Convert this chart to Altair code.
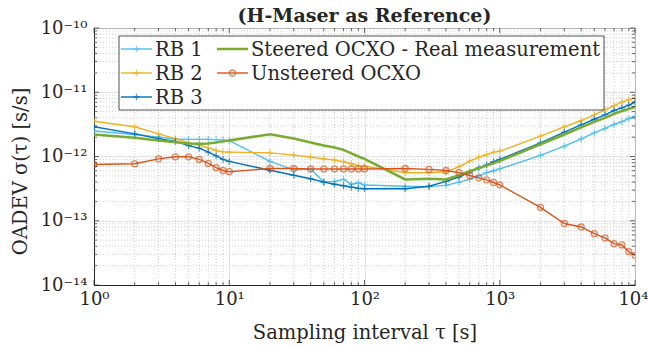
import altair as alt
import pandas as pd

# ---------------- data ----------------
taus = [1, 2, 3, 4, 5, 6, 7, 8, 9, 10,
        20, 30, 40, 50, 60, 70, 80, 90, 100,
        200, 300, 400, 500, 600, 700, 800, 900, 1000,
        2000, 3000, 4000, 5000, 6000, 7000, 8000, 9000, 10000]

rb1 = [2.5e-12, 2.2e-12, 2.0e-12, 1.87e-12, 1.85e-12, 1.85e-12, 1.85e-12, 1.83e-12, 1.8e-12, 1.77e-12,
       0.84e-12, 0.62e-12, 0.64e-12, 0.40e-12, 0.41e-12, 0.44e-12, 0.37e-12, 0.39e-12, 0.36e-12,
       3.45e-13, 3.4e-13, 3.55e-13, 4.0e-13, 4.4e-13, 5.0e-13, 5.6e-13, 6.0e-13, 6.4e-13,
       1.04e-12, 1.45e-12, 1.88e-12, 2.33e-12, 2.73e-12, 3.15e-12, 3.5e-12, 3.9e-12, 4.2e-12]

rb2 = [3.54e-12, 2.9e-12, 2.25e-12, 1.9e-12, 1.63e-12, 1.5e-12, 1.36e-12, 1.24e-12, 1.18e-12, 1.17e-12,
       1.14e-12, 1.05e-12, 0.98e-12, 0.92e-12, 0.88e-12, 0.83e-12, 0.77e-12, 0.72e-12, 0.71e-12,
       5.6e-13, 5.6e-13, 5.8e-13, 6.9e-13, 8.5e-13, 9.8e-13, 1.07e-12, 1.17e-12, 1.21e-12,
       2.07e-12, 2.9e-12, 3.63e-12, 4.45e-12, 5.3e-12, 6.2e-12, 7.0e-12, 7.6e-12, 8.2e-12]

rb3 = [2.9e-12, 2.25e-12, 1.9e-12, 1.72e-12, 1.48e-12, 1.35e-12, 1.17e-12, 1.02e-12, 0.9e-12, 0.84e-12,
       0.61e-12, 0.51e-12, 0.45e-12, 0.40e-12, 0.37e-12, 0.35e-12, 0.333e-12, 0.32e-12, 0.315e-12,
       3.15e-13, 3.45e-13, 4.1e-13, 4.8e-13, 5.7e-13, 6.65e-13, 7.4e-13, 8.3e-13, 9.0e-13,
       1.63e-12, 2.4e-12, 3.1e-12, 3.8e-12, 4.45e-12, 5.2e-12, 5.7e-12, 6.3e-12, 7.0e-12]

steered = [2.2e-12, 1.95e-12, 1.78e-12, 1.67e-12, 1.6e-12, 1.58e-12, 1.6e-12, 1.65e-12, 1.72e-12, 1.78e-12,
           2.22e-12, 1.9e-12, 1.65e-12, 1.48e-12, 1.38e-12, 1.27e-12, 1.12e-12, 1.0e-12, 0.92e-12,
           0.44e-12, 0.45e-12, 0.44e-12, 0.51e-12, 0.59e-12, 0.66e-12, 0.72e-12, 0.79e-12, 0.85e-12,
           1.55e-12, 2.2e-12, 2.85e-12, 3.45e-12, 4.0e-12, 4.6e-12, 5.1e-12, 5.5e-12, 5.9e-12]

unsteered = [7.5e-13, 7.7e-13, 9.2e-13, 9.9e-13, 9.9e-13, 9.0e-13, 7.8e-13, 6.7e-13, 6.05e-13, 5.8e-13,
             6.5e-13, 6.5e-13, 6.4e-13, 6.4e-13, 6.4e-13, 6.4e-13, 6.4e-13, 6.4e-13, 6.4e-13,
             6.5e-13, 6.3e-13, 6.06e-13, 5.6e-13, 5.06e-13, 4.65e-13, 4.33e-13, 3.94e-13, 3.62e-13,
             1.61e-13, 9.06e-14, 8.0e-14, 6.3e-14, 5.4e-14, 4.4e-14, 4.2e-14, 3.3e-14, 2.9e-14]

series_names = ["RB 1", "RB 2", "RB 3", "Steered OCXO - Real measurement", "Unsteered OCXO"]
series_colors = ["#4DBEEE", "#EDB120", "#0072BD", "#77AC30", "#D95319"]
series_markers = ["plus", "plus", "plus", "none", "circle"]

title_text = "(H-Maser as Reference)"
x_title = "Sampling interval τ [s]"
y_title = "OADEV σ(τ) [s/s]"

x_major = [1, 10, 100, 1000, 10000]
y_major = [1e-14, 1e-13, 1e-12, 1e-11, 1e-10]
x_minor = [m * 10 ** e for e in range(0, 4) for m in range(2, 10)]
y_minor = [m * 10.0 ** e for e in range(-14, -10) for m in range(2, 10)]

# ---------------- build ----------------
rows = []
for name, vals in zip(series_names, [rb1, rb2, rb3, steered, unsteered]):
    for t, v in zip(taus, vals):
        rows.append({"series": name, "tau": t, "oadev": v})
df = pd.DataFrame(rows)

W, H = 541, 257
FONT = "DejaVu Serif"
INK = "#262626"
PLUS = "M-1,0L1,0M0,-1L0,1"

xscale = alt.Scale(type="log", domain=[1, 10000], nice=False)
yscale = alt.Scale(type="log", domain=[1e-14, 1e-10], nice=False)
cscale = alt.Scale(domain=series_names, range=series_colors)

E = "round(log(datum.value)/LN10)"
x_lab = (f"{E} == 0 ? '10⁰' : {E} == 1 ? '10¹' : {E} == 2 ? '10²' : "
         f"{E} == 3 ? '10³' : '10⁴'")
y_lab = (f"{E} == -10 ? '10⁻¹⁰' : {E} == -11 ? '10⁻¹¹' : {E} == -12 ? '10⁻¹²' : "
         f"{E} == -13 ? '10⁻¹³' : '10⁻¹⁴'")

last_x = "datum.value >= 9999"
x_axis = alt.Axis(values=x_major, labelExpr=x_lab, title=x_title, titlePadding=15,
                  labelPadding=5,
                  labelAlign={"condition": {"test": last_x, "value": "right"}, "value": "center"},
                  labelOffset={"condition": {"test": last_x, "value": 13}, "value": 0})
y_axis = alt.Axis(values=y_major, labelExpr=y_lab, title=y_title, titlePadding=10,
                  labelPadding=7, titleY=143)

X = lambda f, **kw: alt.X(f, scale=xscale, **kw)
Y = lambda f, **kw: alt.Y(f, scale=yscale, **kw)

layers = []

# axis owner + minor dotted grid (from the minor tick value lists, via the scales)
gx = alt.Chart(pd.DataFrame({"v": x_minor})).mark_rule(
    color="#c4c4c4", strokeWidth=0.8, strokeDash=[1, 2]).encode(
    x=X("v:Q", axis=x_axis))
gy = alt.Chart(pd.DataFrame({"v": y_minor})).mark_rule(
    color="#c4c4c4", strokeWidth=0.8, strokeDash=[1, 2]).encode(
    y=Y("v:Q", axis=y_axis))
layers += [gx, gy]

base = alt.Chart(df)
for name, mk in zip(series_names, series_markers):
    sub = base.transform_filter(alt.datum.series == name)
    sw = 2.5 if mk == "none" else 1.4
    line = sub.mark_line(strokeWidth=sw, clip=True).encode(
        x=X("tau:Q"), y=Y("oadev:Q"),
        color=alt.Color("series:N", scale=cscale, legend=None),
        order="tau:Q",
    )
    layers.append(line)
    if mk != "none":
        shape = PLUS if mk == "plus" else "circle"
        size = 45 if mk == "plus" else 36
        pts = sub.mark_point(shape=shape, size=size, filled=False,
                             strokeWidth=1.3, clip=True).encode(
            x=X("tau:Q"), y=Y("oadev:Q"),
            color=alt.Color("series:N", scale=cscale, legend=None),
        )
        layers.append(pts)

# inward ticks on all four sides (MATLAB box style)
for vals_x, vals_y, ln in [(x_major, y_major, 5), (x_minor, y_minor, 3)]:
    tx = alt.Chart(pd.DataFrame({"v": vals_x}))
    ty = alt.Chart(pd.DataFrame({"v": vals_y}))
    for y0, y1 in [(H, H - ln), (0, ln)]:
        layers.append(tx.mark_rule(color=INK, strokeWidth=0.7).encode(
            x=X("v:Q"), y=alt.value(y0), y2=alt.value(y1)))
    for x0, x1 in [(0, ln), (W, W - ln)]:
        layers.append(ty.mark_rule(color=INK, strokeWidth=0.7).encode(
            y=Y("v:Q"), x=alt.value(x0), x2=alt.value(x1)))

# ---------------- legend (drawn manually, MATLAB column-major layout) ----------------
one = alt.Chart(pd.DataFrame({"k": [0]}))
layers.append(one.mark_rect(fill="white", stroke=INK, strokeWidth=0.8).encode(
    x=alt.value(25), x2=alt.value(510), y=alt.value(8), y2=alt.value(82)))

leg_pos = [(27, 21), (27, 45), (27, 69), (123, 21), (123, 45)]
for name, color, mk, (lx, ly) in zip(series_names, series_colors, series_markers, leg_pos):
    sw = 2.5 if mk == "none" else 1.4
    layers.append(one.mark_rule(color=color, strokeWidth=sw).encode(
        x=alt.value(lx), x2=alt.value(lx + 31), y=alt.value(ly)))
    if mk != "none":
        shape = PLUS if mk == "plus" else "circle"
        size = 45 if mk == "plus" else 36
        layers.append(one.mark_point(shape=shape, size=size, filled=False,
                                     strokeWidth=1.3, color=color).encode(
            x=alt.value(lx + 15.5), y=alt.value(ly)))
    layers.append(one.mark_text(text=name, align="left", baseline="middle",
                                font=FONT, fontSize=19.5, color=INK).encode(
        x=alt.value(lx + 34), y=alt.value(ly + 1)))

chart = alt.layer(*layers).properties(
    width=W, height=H,
    title=alt.TitleParams(title_text, font=FONT, fontSize=19, fontWeight="bold",
                          color=INK, anchor="middle", frame="group", offset=4, dy=11),
    autosize=alt.AutoSizeParams(type="none"),
    padding={"left": 94, "top": 28, "right": 13, "bottom": 63},
    background="white",
).configure_view(stroke=INK, strokeWidth=1).configure_axis(
    grid=True, gridColor="#dcdcdc", gridWidth=0.8, ticks=False,
    domainColor=INK, labelFont=FONT, labelFontSize=18, labelColor=INK,
    labelFlush=False, labelOverlap=False,
    titleFont=FONT, titleFontSize=19.5, titleFontWeight="normal", titleColor=INK,
)

chart.save("out.html", embed_options={"renderer": "svg", "actions": False})
